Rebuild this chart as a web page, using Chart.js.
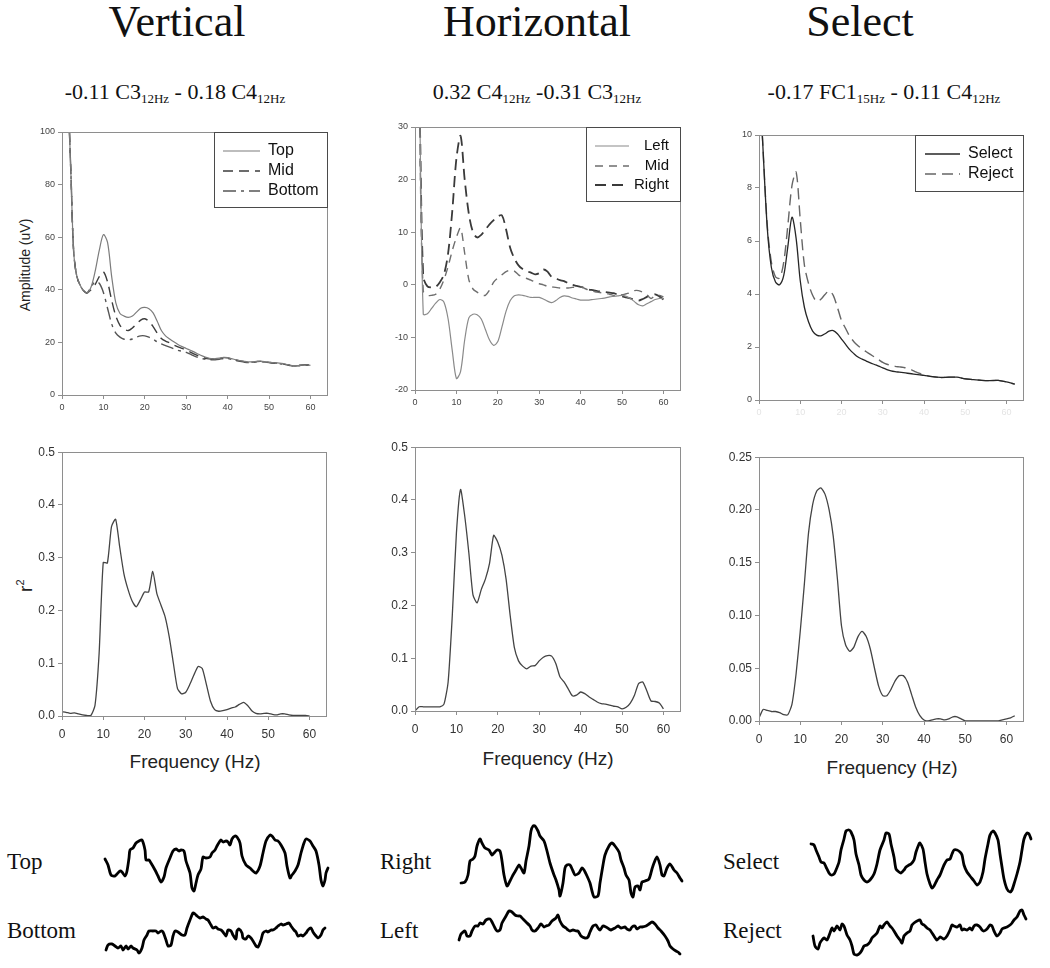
<!DOCTYPE html>
<html>
<head>
<meta charset="utf-8">
<script src="https://cdn.jsdelivr.net/npm/chart.js@4.4.1/dist/chart.umd.min.js"></script>
<style>
  body { margin: 0; background: #fff; }
  #fig { position: relative; width: 1050px; height: 968px; overflow: hidden; background: #fff;
         font-family: "Liberation Sans", Arial, sans-serif; color: #222; }
  #fig canvas { position: absolute; }
  .serif { position: absolute; font-family: "Liberation Serif", "Times New Roman", serif; white-space: nowrap; color: #111; }
  .head { font-size: 44px; line-height: 44px; width: 300px; text-align: center; top: 0; }
  .sub { font-size: 22px; line-height: 22px; width: 320px; text-align: center; top: 81px; }
  .sub span { font-size: 13px; vertical-align: -4px; }
  .wlab { font-size: 23px; line-height: 26px; }
  .sans { position: absolute; white-space: nowrap; color: #222; text-align: center; }
  .freq { font-size: 19px; line-height: 22px; width: 200px; }
  .rot { transform: rotate(-90deg); }
</style>
</head>
<body>
<div id="fig">
  <div class="serif head" style="left:27px">Vertical</div>
  <div class="serif head" style="left:387px">Horizontal</div>
  <div class="serif head" style="left:710px">Select</div>

  <div class="serif sub" style="left:15px">-0.11 C3<span>12Hz</span> - 0.18 C4<span>12Hz</span></div>
  <div class="serif sub" style="left:377px">0.32 C4<span>12Hz</span> -0.31 C3<span>12Hz</span></div>
  <div class="serif sub" style="left:724px">-0.17 FC1<span>15Hz</span> - 0.11 C4<span>12Hz</span></div>

  <div class="sans rot" style="left:-75px;top:255px;width:200px;font-size:14px;line-height:20px">Amplitude (uV)</div>
  <div class="sans rot" style="left:3px;top:572px;width:40px;font-size:19px;line-height:22px">r<sup style="font-size:11px">2</sup></div>

  <div class="sans freq" style="left:95px;top:751px">Frequency (Hz)</div>
  <div class="sans freq" style="left:448px;top:748px">Frequency (Hz)</div>
  <div class="sans freq" style="left:792px;top:757px">Frequency (Hz)</div>

  <div class="serif wlab" style="left:7px;top:849px">Top</div>
  <div class="serif wlab" style="left:7px;top:918px">Bottom</div>
  <div class="serif wlab" style="left:380px;top:849px">Right</div>
  <div class="serif wlab" style="left:380px;top:918px">Left</div>
  <div class="serif wlab" style="left:723px;top:849px">Select</div>
  <div class="serif wlab" style="left:723px;top:918px">Reject</div>

  <canvas id="ampV"></canvas>
  <canvas id="ampH"></canvas>
  <canvas id="ampS"></canvas>
  <canvas id="r2V"></canvas>
  <canvas id="r2H"></canvas>
  <canvas id="r2S"></canvas>
  <canvas id="wTop"></canvas>
  <canvas id="wBottom"></canvas>
  <canvas id="wRight"></canvas>
  <canvas id="wLeft"></canvas>
  <canvas id="wSelect"></canvas>
  <canvas id="wReject"></canvas>
</div>

<script>
// ---- amplitude spectra (top row) ----
const freqV = [1.8,2.2,2.8,3.6,4.8,6,7,8,9,10,11,12,13,14,15,16,17,18,19,20,21,22,23,24,25,26,27,28,29,30,
               31,32,33,34,35,36,37,38,39,40,41,42,43,44,45,46,47,48,49,50,51,52,53,54,55,56,57,58,59,60];
const ampTop = [100,82,55,45,40.5,38.8,41,47,55,61,58,45,35,31,30,29.5,30,31.5,33,33.3,32.8,31.2,28,24.5,22.5,21.3,20.2,19.2,18.4,17.7,
                17,16.3,15.5,14.8,14.2,13.8,13.8,14,14.3,14.2,13.8,13.4,13.1,12.8,12.6,12.6,12.8,12.9,12.7,12.4,12.3,12.2,12,11.7,11.3,11.1,11.2,11.4,11.5,11.3];
const ampMid = [100,82,55,45,40.5,38.8,40,42,45,46.8,43,36,30,26.5,25,24.5,25.5,27,28.5,29,28,26,23.5,21.5,20.5,19.8,19,18.3,17.7,17,
                16.3,15.5,14.8,14.3,13.9,13.7,13.7,13.9,14.2,14.1,13.7,13.3,13,12.7,12.5,12.5,12.7,12.8,12.6,12.4,12.2,12.1,11.9,11.6,11.3,11.1,11.2,11.4,11.5,11.3];
const ampBottom = [100,82,55,45,40.5,38.8,41,43,42.5,39,33,27,23.5,22,21.2,21,21.3,22,22.5,22.5,22,21.2,20.2,19.4,18.8,18.2,17.6,17,16.6,16.2,
                   15.5,14.8,14.2,13.8,13.5,13.4,13.4,13.6,13.9,13.9,13.5,13.1,12.8,12.5,12.3,12.4,12.6,12.7,12.5,12.3,12.1,12,11.8,11.5,11.2,11,11.1,11.3,11.4,11.2];

const freqH = [1.2,2,3,4,5,6,7,8,9,10,11,12,13,14,15,16,17,18,19,20,21,22,23,24,25,26,27,28,29,30,
               31,32,33,34,35,36,37,38,39,40,41,42,43,44,45,46,47,48,49,50,51,52,53,54,55,56,57,58,59,60];
const ampLeft = [30,-5.6,-5.5,-4.5,-3.5,-2.8,-3.3,-6.5,-12.5,-17.8,-16.5,-10.5,-6.3,-5.6,-5.7,-6.5,-8.5,-10.5,-11.5,-10.8,-8,-5,-3,-2.1,-1.9,-2,-2.2,-2.4,-2.4,-2.4,
                 -2.7,-3.1,-3.4,-3,-2.4,-2.1,-2.2,-2.5,-2.7,-2.9,-2.9,-2.9,-2.8,-2.7,-2.6,-2.5,-2.3,-2.2,-2.1,-2,-2.2,-2.6,-3.2,-3.8,-4,-3.6,-3.2,-2.8,-2.6,-2.6];
const ampMidH = [24,-1.2,-2,-2,-1.8,-0.8,1,3.5,6.5,9,10.8,6,1,-0.8,-1.4,-1.9,-2,-1,0.5,1.3,1.9,2.5,2.8,2.6,1.9,1.5,1.2,0.9,0.5,0.2,
                 0,-0.3,-0.4,-0.5,-0.6,-0.6,-0.6,-0.5,-0.4,-0.4,-0.7,-1,-1.2,-1.4,-1.5,-1.6,-1.8,-2,-2,-1.9,-1.7,-1.5,-1.1,-1.1,-1.4,-1.9,-2.6,-2,-2,-2.3];
const ampRight = [30,1.5,-0.3,-0.5,-0.4,0.5,2,6,14,24,28.3,20,13.5,10,9,9.5,10.5,11.5,12.3,13,13.2,10.5,7,5,3.7,3,2.6,2.3,2,2.2,
                  2.9,2.5,1.5,1.2,0.9,0.7,0.3,0,-0.2,-0.4,-0.6,-0.9,-1,-1.2,-1.3,-1.4,-1.5,-1.6,-1.9,-2.2,-2.4,-2.6,-2.8,-3,-2.7,-2.3,-2,-1.8,-2.2,-2.8];

const freqS = [0.8,2,3,4,5,6,7,8,9,10,11,12,13,14,15,16,17,18,19,20,21,22,23,24,25,26,27,28,29,30,
               31,32,33,34,35,36,37,38,39,40,42,44,46,48,50,52,54,56,58,60,62];
const ampSelect = [10,6.5,5,4.45,4.35,4.7,5.8,6.9,6.1,4.5,3.5,2.95,2.6,2.45,2.42,2.5,2.6,2.62,2.5,2.3,2.1,1.9,1.75,1.62,1.54,1.47,1.4,1.34,1.28,1.21,
                   1.15,1.1,1.07,1.05,1.03,1.01,0.99,0.97,0.95,0.93,0.88,0.85,0.86,0.86,0.8,0.77,0.74,0.73,0.74,0.68,0.6];
const ampReject = [10,6.6,5.2,4.65,4.6,5.2,6.6,8.1,8.6,6.8,5.1,4.4,3.95,3.72,3.8,3.98,4.12,3.95,3.5,3.0,2.7,2.4,2.2,2.05,1.92,1.82,1.72,1.62,1.52,1.42,
                   1.35,1.3,1.27,1.25,1.23,1.2,1.14,1.06,1.0,0.95,0.88,0.85,0.86,0.86,0.8,0.77,0.74,0.73,0.74,0.68,0.6];

// ---- r^2 spectra (middle row) ----
const freqR = [0,1,2,3,4,5,6,7,8,9,10,11,12,13,14,15,16,17,18,19,20,21,22,23,24,25,26,27,28,29,30,
               31,32,33,34,35,36,37,38,39,40,41,42,43,44,45,46,47,48,49,50,51,52,53,54,55,56,57,58,59,60];
const freqR6 = [0,1,2,3,4,5,6,7,8,9,10,11,12,13,14,15,16,17,18,19,20,21,22,23,24,25,26,27,28,29,30,
                31,32,33,34,35,36,37,38,39,40,41,42,43,44,45,46,47,48,49,50,51,52,53,54,55,56,57,58,59,60,61,62];
const r2Vertical = [0.008,0.007,0.005,0.006,0.004,0.002,0.001,0.001,0.02,0.119,0.291,0.29,0.359,0.373,0.32,0.27,0.24,0.218,0.207,0.22,
                    0.235,0.235,0.274,0.232,0.21,0.188,0.15,0.1,0.052,0.042,0.045,0.06,0.078,0.094,0.09,0.06,0.028,0.012,0.009,0.01,
                    0.012,0.015,0.017,0.022,0.026,0.02,0.01,0.005,0.004,0.005,0.005,0.003,0.002,0.004,0.004,0.002,0.001,0.001,0.001,0.001,0.0];
const r2Horizontal = [0.0,0.008,0.008,0.008,0.008,0.008,0.008,0.013,0.055,0.18,0.337,0.42,0.37,0.3,0.22,0.205,0.23,0.25,0.28,0.333,
                      0.32,0.295,0.25,0.18,0.12,0.095,0.085,0.08,0.085,0.086,0.095,0.102,0.105,0.104,0.09,0.065,0.055,0.042,0.029,0.03,
                      0.036,0.033,0.027,0.022,0.017,0.014,0.013,0.011,0.009,0.008,0.004,0.007,0.015,0.03,0.052,0.055,0.038,0.019,0.018,0.015,0.004];
const r2Select = [0.003,0.011,0.01,0.009,0.009,0.008,0.006,0.006,0.016,0.045,0.085,0.13,0.178,0.205,0.218,0.221,0.215,0.2,0.175,0.135,
                  0.09,0.072,0.066,0.07,0.08,0.085,0.08,0.068,0.05,0.033,0.024,0.024,0.03,0.038,0.043,0.043,0.037,0.025,0.013,0.005,
                  0.001,0.0,0.001,0.002,0.002,0.001,0.002,0.004,0.004,0.002,0.0,0.0,0.0,0.0,0.0,0.0,0.0,0.0,0.0,0.001,0.002,0.003,0.005];

// ---- example EEG traces (bottom row): [time sample, amplitude] ----
const traceTop = [[0,4],[3,-2],[6,-12],[10,-13],[12,-11],[15,-8],[17,-9],[20,-13],[22,-8],[24,5],[25,13],[28,15],[31,20],[34,22],[37,23],
  [40,13],[41,3],[44,3],[46,0],[50,-7],[53,-13],[56,-19],[59,-14],[61,-5],[65,5],[68,12],[71,14],[74,12],[76,13],[79,12],[81,2],[85,-10],
  [87,-25],[89,-28],[91,-20],[93,-12],[96,-6],[98,6],[101,5],[105,6],[107,10],[110,13],[112,17],[115,22],[116,23],[118,21],[121,22],
  [123,21],[125,18],[127,24],[130,27],[132,26],[135,20],[137,7],[141,-2],[145,-5],[148,-8],[151,-10],[155,-3],[158,10],[161,22],[165,28],
  [167,27],[170,23],[173,22],[176,18],[180,10],[182,-3],[185,-15],[187,-12],[190,-8],[193,-2],[196,10],[199,20],[201,24],[205,22],[208,17],
  [211,12],[214,-2],[216,-17],[218,-23],[220,-17],[221,-10],[223,-5]];
const traceBottom = [[0,-17],[2,-12],[6,-11],[9,-13],[12,-15],[15,-13],[17,-17],[20,-13],[22,-16],[25,-13],[27,-15],[31,-17],[33,-20],
  [36,-15],[38,-7],[41,-2],[43,2],[47,2],[50,2],[52,0],[55,2],[57,1],[60,-7],[62,-13],[65,-12],[67,-3],[69,2],[72,1],[76,-2],[79,-2],
  [81,5],[84,13],[87,20],[89,19],[91,17],[94,15],[97,16],[100,14],[102,13],[105,8],[107,5],[110,6],[112,4],[115,3],[117,1],[120,-3],
  [122,3],[125,2],[127,-2],[130,-6],[131,2],[133,4],[136,0],[137,-5],[140,-6],[142,-3],[145,-5],[147,-8],[150,-13],[152,-14],[155,-7],
  [157,0],[160,2],[162,1],[165,3],[167,3],[170,5],[172,7],[175,9],[177,8],[180,9],[183,10],[185,7],[188,3],[190,1],[192,-3],[195,-2],
  [197,-3],[200,0],[202,3],[205,5],[207,1],[210,-3],[212,-5],[215,-2],[217,3],[219,5]];
const traceRight = [[0,-20],[4,-19],[7,-12],[9,2],[12,4],[14,7],[16,17],[19,24],[21,20],[24,15],[28,13],[31,8],[33,10],[36,13],[39,12],
  [41,2],[43,-12],[46,-23],[49,-18],[52,-12],[55,-7],[58,-2],[60,-5],[63,-10],[65,2],[68,17],[70,32],[72,37],[74,37],[77,32],[79,27],
  [83,22],[86,12],[89,0],[93,-12],[95,-17],[98,-27],[99,-33],[102,-20],[104,-5],[106,-2],[109,-2],[112,-8],[114,-12],[118,-10],[121,-5],
  [123,-7],[126,-13],[129,-20],[131,-28],[133,-34],[137,-33],[139,-20],[142,-2],[144,8],[148,17],[151,20],[154,17],[158,11],[160,3],
  [163,-5],[165,-12],[168,-17],[170,-30],[172,-34],[174,-24],[177,-23],[179,-27],[181,-19],[184,-18],[188,-16],[191,-6],[193,0],[196,6],
  [199,-2],[201,-12],[203,-13],[206,-5],[209,-1],[213,-7],[216,-10],[219,-15],[221,-18]];
const traceLeft = [[0,-12],[2,-6],[6,-3],[8,-8],[11,-8],[13,-3],[16,2],[19,2],[21,5],[24,4],[27,8],[31,9],[33,6],[36,0],[38,-3],[41,-2],
  [43,5],[47,12],[50,17],[53,16],[56,13],[59,12],[61,12],[64,9],[67,6],[71,2],[73,-2],[76,-3],[79,0],[82,4],[85,1],[87,2],[90,3],[93,7],
  [97,10],[99,13],[101,7],[104,2],[107,0],[109,-2],[111,-3],[114,-2],[117,-3],[119,-3],[122,-8],[126,-10],[129,-9],[131,-4],[134,2],
  [137,3],[139,0],[141,-2],[144,2],[147,1],[150,-1],[152,-2],[156,0],[159,2],[162,0],[166,1],[168,-1],[171,-2],[173,1],[176,2],[178,-1],
  [181,1],[183,1],[187,2],[190,4],[193,6],[196,4],[199,0],[202,-3],[206,-8],[209,-13],[211,-18],[214,-21],[217,-23],[219,-24],[221,-26]];
const traceSelect = [[0,18],[3,17],[5,12],[8,5],[10,0],[13,-1],[15,-5],[18,-11],[20,-13],[23,-12],[25,-8],[28,0],[30,12],[33,23],[35,31],
  [38,32],[40,30],[43,22],[45,8],[48,-3],[50,-13],[53,-18],[56,-20],[59,-18],[63,-12],[66,-2],[69,12],[73,22],[75,29],[78,28],[80,18],
  [83,5],[85,-7],[88,-10],[90,-11],[93,-8],[95,-5],[98,-3],[100,-2],[103,2],[105,10],[108,18],[109,19],[112,13],[114,0],[116,-12],
  [119,-22],[121,-26],[123,-24],[126,-18],[129,-13],[131,-8],[133,-3],[136,2],[139,3],[141,8],[143,12],[146,12],[149,10],[151,7],
  [153,-3],[156,-10],[159,-14],[163,-19],[166,-23],[169,-20],[172,-10],[174,3],[177,18],[179,27],[182,31],[184,29],[187,22],[189,8],
  [191,-5],[193,-17],[196,-27],[199,-30],[201,-28],[203,-22],[206,-12],[209,0],[211,12],[213,23],[216,29],[218,28],[220,23]];
const traceReject = [[0,-3],[2,-13],[5,-16],[7,-10],[9,-7],[11,-5],[14,-7],[17,0],[19,5],[21,2],[24,7],[27,3],[29,9],[31,7],[34,-2],
  [37,-7],[39,-13],[41,-21],[44,-22],[47,-20],[49,-17],[51,-13],[54,-12],[57,-9],[59,-5],[61,-3],[64,0],[67,7],[69,5],[71,8],[74,11],
  [77,7],[79,5],[81,2],[84,-3],[87,-7],[89,-10],[91,-3],[94,0],[97,2],[99,8],[101,10],[104,12],[107,13],[109,9],[111,8],[114,5],[117,3],
  [119,0],[121,-3],[124,-7],[127,-4],[129,-5],[131,-6],[134,-3],[137,3],[139,8],[141,7],[144,6],[147,8],[149,3],[151,4],[154,3],[157,5],
  [159,3],[161,7],[164,8],[167,6],[169,3],[171,2],[174,4],[177,8],[179,7],[181,2],[184,-3],[187,0],[189,4],[191,5],[194,6],[197,8],
  [199,10],[201,13],[204,16],[207,22],[209,23],[211,18],[213,14]];

const AXIS = '#8e8e8e';
const YW = 50, PT = 10, PR = 10;

// draws the box round the plot and the in-plot legend
const framePlugin = {
  id: 'frame',
  afterDraw(chart, args, opts) {
    const { ctx, chartArea: a } = chart;
    ctx.save();
    ctx.strokeStyle = AXIS;
    ctx.lineWidth = 1;
    ctx.strokeRect(Math.round(a.left) + 0.5, Math.round(a.top) + 0.5, Math.round(a.right - a.left), Math.round(a.bottom - a.top));
    const lg = opts.legend;
    if (lg) {
      const bx = Math.round(a.right - lg.w), by = Math.round(a.top);
      ctx.fillStyle = '#fff';
      ctx.fillRect(bx, by, lg.w, lg.h);
      ctx.strokeStyle = '#4a4a4a';
      ctx.strokeRect(bx + 0.5, by + 0.5, lg.w, lg.h);
      ctx.font = lg.size + 'px "Liberation Sans", Arial, sans-serif';
      ctx.textBaseline = 'middle';
      chart.data.datasets.forEach((ds, i) => {
        const y = by + lg.rows[i];
        ctx.beginPath();
        ctx.setLineDash(ds.borderDash || []);
        ctx.strokeStyle = ds.borderColor;
        ctx.lineWidth = ds.borderWidth;
        ctx.moveTo(bx + lg.line[0], y);
        ctx.lineTo(bx + lg.line[1], y);
        ctx.stroke();
        ctx.setLineDash([]);
        ctx.fillStyle = '#111';
        if (lg.alignRight) {
          ctx.textAlign = 'right';
          ctx.fillText(ds.label, bx + lg.w - lg.text, y);
        } else {
          ctx.textAlign = 'left';
          ctx.fillText(ds.label, bx + lg.text, y);
        }
      });
    }
    ctx.restore();
  }
};

function series(label, xs, ys, color, width, dash, tension) {
  return {
    label,
    data: xs.map((x, i) => ({ x, y: ys[i] })),
    borderColor: color,
    borderWidth: width,
    borderDash: dash,
    pointRadius: 0,
    tension: tension,
    fill: false
  };
}

function spectrum(id, box, datasets, y, style) {
  const cv = document.getElementById(id);
  const XH = style.xh;
  cv.width = box.R - box.L + YW + PR;
  cv.height = box.B - box.T + PT + XH;
  cv.style.left = (box.L - YW) + 'px';
  cv.style.top = (box.T - PT) + 'px';
  new Chart(cv, {
    type: 'line',
    data: { datasets },
    plugins: [framePlugin],
    options: {
      responsive: false,
      animation: false,
      layout: { padding: { top: PT, right: PR, left: 0, bottom: 0 } },
      plugins: { legend: { display: false }, tooltip: { enabled: false }, frame: { legend: style.legend } },
      scales: {
        x: {
          type: 'linear', min: 0, max: 64,
          afterFit: s => { s.height = XH; },
          grid: { drawOnChartArea: false, tickLength: 4, color: AXIS },
          border: { color: AXIS },
          ticks: { stepSize: 10, includeBounds: false, maxRotation: 0, padding: style.xpad,
                   color: style.xcolor || style.color, font: { size: style.font, family: '"Liberation Sans", Arial, sans-serif' } }
        },
        y: {
          min: y.min, max: y.max,
          afterFit: s => { s.width = YW; },
          grid: { drawOnChartArea: false, tickLength: 4, color: AXIS },
          border: { color: AXIS },
          ticks: { stepSize: y.step, padding: 3, color: style.color,
                   font: { size: style.font, family: '"Liberation Sans", Arial, sans-serif' },
                   callback: v => v.toFixed(y.dec) }
        }
      }
    }
  });
}

function trace(id, pts, x0, cy) {
  const cv = document.getElementById(id);
  const pad = 4, half = 40;
  const tmax = pts[pts.length - 1][0];
  cv.width = tmax + 2 * pad;
  cv.height = 2 * half + 2 * pad;
  cv.style.left = (x0 - pad) + 'px';
  cv.style.top = (cy - half - pad) + 'px';
  new Chart(cv, {
    type: 'line',
    data: { datasets: [{ data: pts.map(p => ({ x: p[0], y: p[1] })), borderColor: '#000', borderWidth: 2.8,
                         pointRadius: 0, tension: 0.25, clip: false, borderJoinStyle: 'round', borderCapStyle: 'round' }] },
    options: {
      responsive: false, animation: false,
      layout: { padding: pad },
      plugins: { legend: { display: false }, tooltip: { enabled: false } },
      scales: { x: { type: 'linear', min: 0, max: tmax, display: false }, y: { min: -half, max: half, display: false } }
    }
  });
}

const topStyle = { font: 9, color: '#444', xpad: 3, xh: 26 };
const r2Style = { font: 12, color: '#333', xpad: 7, xh: 34 };

spectrum('ampV', { L: 62, T: 132, R: 327, B: 395 }, [
  series('Top', freqV, ampTop, '#7c7c7c', 1.2, [], 0.3),
  series('Mid', freqV, ampMid, '#3c3c3c', 1.4, [10, 6], 0.3),
  series('Bottom', freqV, ampBottom, '#555', 1.4, [13, 5, 3, 5], 0.3)
], { min: 0, max: 100, step: 20, dec: 0 },
  Object.assign({}, topStyle, { legend: { w: 113, h: 75, rows: [19, 39, 59], line: [9, 46], text: 54, size: 16 } }));

spectrum('ampH', { L: 415, T: 127, R: 680, B: 390 }, [
  series('Left', freqH, ampLeft, '#8a8a8a', 1.2, [], 0.3),
  series('Mid', freqH, ampMidH, '#6e6e6e', 1.4, [8, 6], 0.3),
  series('Right', freqH, ampRight, '#3a3a3a', 1.8, [11, 6], 0.3)
], { min: -20, max: 30, step: 10, dec: 0 },
  Object.assign({}, topStyle, { legend: { w: 94, h: 74, rows: [19, 39, 58], line: [9, 43], text: 11, size: 15 , alignRight: true } }));

spectrum('ampS', { L: 759, T: 135, R: 1023, B: 400 }, [
  series('Select', freqS, ampSelect, '#262626', 1.3, [], 0.3),
  series('Reject', freqS, ampReject, '#666', 1.4, [11, 6], 0.3)
], { min: 0, max: 10, step: 2, dec: 0 },
  Object.assign({}, topStyle, { xcolor: '#e4e4e4', legend: { w: 108, h: 56, rows: [19, 39], line: [10, 45], text: 53, size: 16 } }));

spectrum('r2V', { L: 62, T: 452, R: 326, B: 716 }, [
  series('r2', freqR, r2Vertical, '#444', 1.3, [], 0.2)
], { min: 0, max: 0.5, step: 0.1, dec: 1 }, r2Style);

spectrum('r2H', { L: 415, T: 447, R: 680, B: 711 }, [
  series('r2', freqR, r2Horizontal, '#444', 1.3, [], 0.2)
], { min: 0, max: 0.5, step: 0.1, dec: 1 }, r2Style);

spectrum('r2S', { L: 759, T: 457, R: 1023, B: 721 }, [
  series('r2', freqR6, r2Select, '#444', 1.3, [], 0.2)
], { min: 0, max: 0.25, step: 0.05, dec: 2 }, r2Style);

trace('wTop', traceTop, 105, 863);
trace('wBottom', traceBottom, 106, 933);
trace('wRight', traceRight, 461, 863);
trace('wLeft', traceLeft, 459, 928);
trace('wSelect', traceSelect, 811, 862);
trace('wReject', traceReject, 813, 933);
</script>
</body>
</html>
